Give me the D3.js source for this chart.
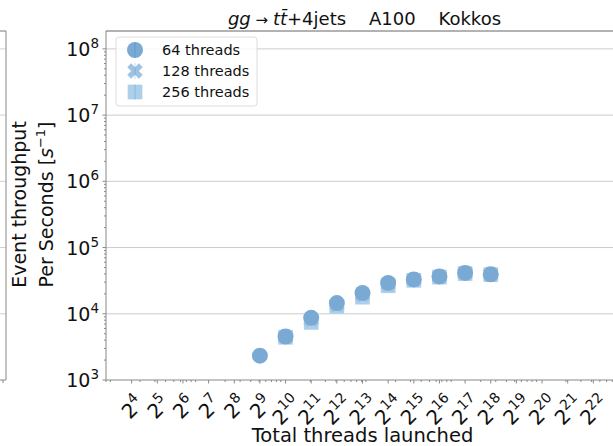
<!DOCTYPE html>
<html>
<head>
<meta charset="utf-8">
<script src="https://cdn.jsdelivr.net/npm/d3@7"></script>
<style>
  body { margin: 0; background: #fff; }
  text { font-family: "DejaVu Sans", sans-serif; fill: #111; }
</style>
</head>
<body>
<svg id="chart" width="613" height="446"></svg>
<script>
// data
const exponents = [9, 10, 11, 12, 13, 14, 15, 16, 17, 18];
const threads64 = [2330, 4530, 8700, 14500, 20600, 29200, 33000, 36700, 41400, 39400];
const threads128 = [null, 4480, 8100, 13700, 19300, 28000, 32600, 36300, 41000, 39200];
const threads256 = [null, 4420, 7400, 12900, 17800, 26500, 32000, 35800, 40500, 39000];
const xTickExps = d3.range(4, 23);
const yTickExps = [3, 4, 5, 6, 7, 8];
const seriesNames = ["64 threads", "128 threads", "256 threads"];

const margin = { top: 31, left: 106, right: 619, bottom: 380 };

const svg = d3.select("#chart");

const x = d3.scaleLog().base(2).domain([Math.pow(2, 3), Math.pow(2, 23)]).range([margin.left, margin.right]);
const y = d3.scaleLog().domain([1e3, Math.pow(10, 8.27)]).range([margin.bottom, margin.top]);

// filled X marker like matplotlib's 'X'
const symbolX = {
    draw(ctx, size) {
        const h = Math.sqrt(size) / 2;
        const t = h * 0.5;
        ctx.moveTo(-h, -h + t);
        ctx.lineTo(-h + t, -h);
        ctx.lineTo(0, -t);
        ctx.lineTo(h - t, -h);
        ctx.lineTo(h, -h + t);
        ctx.lineTo(t, 0);
        ctx.lineTo(h, h - t);
        ctx.lineTo(h - t, h);
        ctx.lineTo(0, t);
        ctx.lineTo(-h + t, h);
        ctx.lineTo(-h, h - t);
        ctx.lineTo(-t, 0);
        ctx.closePath();
    }
};

// left neighbour panel edge (cropped subplot)
const leftPanel = svg.append("g");
leftPanel.selectAll("line.grid")
    .data(yTickExps.slice(1))
    .join("line")
    .attr("x1", 0).attr("x2", 6)
    .attr("y1", d => y(Math.pow(10, d))).attr("y2", d => y(Math.pow(10, d)))
    .attr("stroke", "#d0d0d0");
leftPanel.append("line").attr("x1", 6).attr("x2", 6).attr("y1", margin.top).attr("y2", margin.bottom).attr("stroke", "#888");
leftPanel.append("line").attr("x1", 0).attr("x2", 6).attr("y1", margin.top).attr("y2", margin.top).attr("stroke", "#777");
leftPanel.append("line").attr("x1", 0).attr("x2", 6).attr("y1", margin.bottom).attr("y2", margin.bottom).attr("stroke", "#888");
leftPanel.append("line").attr("x1", 3).attr("x2", 3).attr("y1", margin.bottom).attr("y2", margin.bottom + 3).attr("stroke", "#888");

// grid
svg.append("g")
    .selectAll("line")
    .data(yTickExps.slice(1))
    .join("line")
    .attr("x1", margin.left).attr("x2", margin.right)
    .attr("y1", d => y(Math.pow(10, d))).attr("y2", d => y(Math.pow(10, d)))
    .attr("stroke", "#cccccc");

// points: light blues, the 64-thread circles end up on top
const seriesData = [threads64, threads128, threads256];
const symbols = [d3.symbolCircle, symbolX, d3.symbolSquare];
const sizes = [201, 240, 215];
const colors = ["#7aaad4", "#9fc4e3", "#acd0ea"];
const drawOrder = [2, 1, 0];

drawOrder.forEach(i => {
    const vals = seriesData[i];
    const pts = exponents.map((e, j) => ({ x: Math.pow(2, e), y: vals[j] })).filter(d => d.y != null);
    svg.append("g")
        .selectAll("path")
        .data(pts)
        .join("path")
        .attr("transform", d => `translate(${x(d.x)},${y(d.y)})`)
        .attr("d", d3.symbol().type(symbols[i]).size(sizes[i]))
        .attr("fill", colors[i]);
});

// spines
svg.append("line").attr("x1", margin.left).attr("x2", margin.left).attr("y1", margin.top).attr("y2", margin.bottom).attr("stroke", "#888");
svg.append("line").attr("x1", margin.left).attr("x2", 613).attr("y1", margin.bottom).attr("y2", margin.bottom).attr("stroke", "#888");
svg.append("line").attr("x1", margin.left).attr("x2", 613).attr("y1", margin.top).attr("y2", margin.top).attr("stroke", "#666");

// y ticks
const yMinor = [];
for (let k = 3; k < 9; k++) for (let m = 2; m < 10; m++) {
    const v = m * Math.pow(10, k);
    if (v < y.domain()[1]) yMinor.push(v);
}
svg.append("g").selectAll("line").data(yMinor).join("line")
    .attr("x1", margin.left - 2).attr("x2", margin.left)
    .attr("y1", d => y(d)).attr("y2", d => y(d)).attr("stroke", "#888");
svg.append("g").selectAll("line").data(yTickExps).join("line")
    .attr("x1", margin.left - 3.5).attr("x2", margin.left)
    .attr("y1", d => y(Math.pow(10, d))).attr("y2", d => y(Math.pow(10, d))).attr("stroke", "#888");
const yLab = svg.append("g").selectAll("text").data(yTickExps).join("text")
    .attr("x", margin.left - 7)
    .attr("y", d => y(Math.pow(10, d)) + 7)
    .attr("text-anchor", "end")
    .style("font-size", "19px");
yLab.append("tspan").text("10");
yLab.append("tspan").attr("dy", -8).style("font-size", "13.5px").text(d => d);

// x ticks: base-10 minor ticks, 2^n major ticks
const xMinor = [];
for (let k = 0; k < 7; k++) for (let m = 2; m < 10; m++) {
    const v = m * Math.pow(10, k);
    if (v >= x.domain()[0] && v <= x.domain()[1]) xMinor.push(v);
}
svg.append("g").selectAll("line").data(xMinor).join("line")
    .attr("x1", d => x(d)).attr("x2", d => x(d))
    .attr("y1", margin.bottom).attr("y2", margin.bottom + 2).attr("stroke", "#888");
svg.append("g").selectAll("line").data(xTickExps).join("line")
    .attr("x1", d => x(Math.pow(2, d))).attr("x2", d => x(Math.pow(2, d)))
    .attr("y1", margin.bottom).attr("y2", margin.bottom + 3.5).attr("stroke", "#888");

xTickExps.forEach(e => {
    const t = svg.append("text").attr("text-anchor", "middle").style("font-size", "20px");
    t.append("tspan").text("2");
    t.append("tspan").attr("dy", -9).style("font-size", "14px").text(e);
    const bb = t.node().getBBox();
    const cx = bb.x + bb.width / 2, cy = bb.y + bb.height / 2;
    const half = (bb.width + bb.height * 0.8) / (2 * Math.SQRT2);
    t.attr("transform", `translate(${x(Math.pow(2, e))},${391 + half}) rotate(-45) translate(${-cx},${-cy})`);
});

// axis labels
svg.append("text")
    .attr("x", (margin.left + margin.right) / 2).attr("y", 442)
    .attr("text-anchor", "middle").style("font-size", "19.5px")
    .text("Total threads launched");

const yl = svg.append("g").attr("transform", `translate(0,${(margin.top + margin.bottom) / 2 - 1}) rotate(-90)`);
yl.append("text").attr("x", 0).attr("y", 26).attr("text-anchor", "middle").style("font-size", "19px").text("Event throughput");
const yl2 = yl.append("text").attr("x", 0).attr("y", 53).attr("text-anchor", "middle").style("font-size", "19px");
yl2.append("tspan").text("Per Seconds [");
yl2.append("tspan").style("font-style", "italic").text("s");
yl2.append("tspan").attr("dy", -8).style("font-size", "13px").text("\u22121");
yl2.append("tspan").attr("dy", 8).text("]");

// title
const title = svg.append("text")
    .attr("x", (margin.left + margin.right) / 2 + 2).attr("y", 25)
    .attr("text-anchor", "middle").style("font-size", "18px")
    .attr("xml:space", "preserve");
title.append("tspan").style("font-style", "italic").text("gg");
title.append("tspan").style("font-size", "15px").text(" \u2192 ");
title.append("tspan").style("font-style", "italic").text("t");
title.append("tspan").style("font-style", "italic").text("t\u0304");
title.append("tspan").text("+4jets    A100    Kokkos");

// legend
const legend = svg.append("g");
legend.append("rect")
    .attr("x", 116).attr("y", 37).attr("width", 141).attr("height", 69).attr("rx", 3)
    .attr("fill", "#fff").attr("fill-opacity", 0.85).attr("stroke", "#dcdcdc");
seriesNames.forEach((name, i) => {
    const ly = 50 + i * 21;
    legend.append("path")
        .attr("transform", `translate(135,${ly})`)
        .attr("d", d3.symbol().type(symbols[i]).size(sizes[i]))
        .attr("fill", colors[i]);
    legend.append("line").attr("x1", 135).attr("x2", 135).attr("y1", ly - 8).attr("y2", ly + 8)
        .attr("stroke", "#1f77b4").attr("stroke-opacity", 0.25);
    legend.append("text").attr("x", 162).attr("y", ly + 5).style("font-size", "14.5px").text(name);
});
</script>
</body>
</html>
